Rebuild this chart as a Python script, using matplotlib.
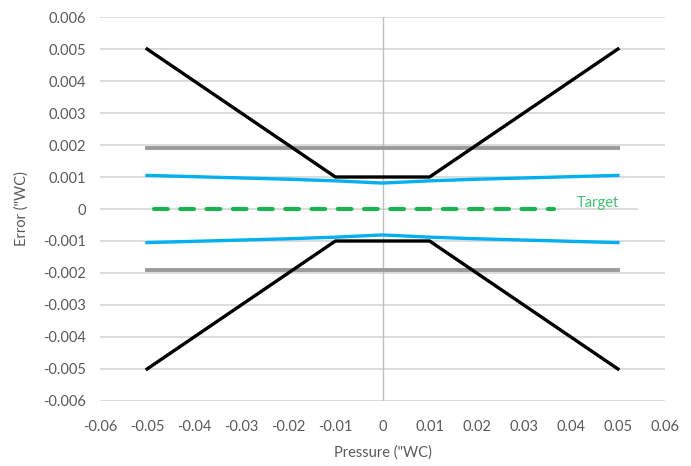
import matplotlib
matplotlib.use("Agg")
import matplotlib.pyplot as plt
import numpy as np

# values
pressure = [-0.05, -0.04, -0.03, -0.02, -0.01, 0.0, 0.01, 0.02, 0.03, 0.04, 0.05]
blue_upper = [0.00105, 0.00101, 0.00097, 0.00093, 0.00088, 0.00081,
              0.00088, 0.00093, 0.00097, 0.00101, 0.00105]
blue_lower = [-v for v in blue_upper]

limit_x = [-0.05, -0.01, 0.01, 0.05]
limit_upper = [0.005, 0.001, 0.001, 0.005]
limit_lower = [-0.005, -0.001, -0.001, -0.005]

gray_x = [-0.05, 0.05]
gray_upper = [0.0019, 0.0019]
gray_lower = [-0.0019, -0.0019]

target_x = [-0.0485, 0.0365]
target_y = [0.0, 0.0]
target_label = "Target"

xticks = np.round(np.arange(-0.06, 0.0601, 0.01), 2)
yticks = np.round(np.arange(-0.006, 0.00601, 0.001), 3)

plt.rcParams['font.family'] = ['Lato', 'DejaVu Sans']
textcol = '#595959'

fig = plt.figure(figsize=(6.91, 4.66), dpi=100)
ax = fig.add_axes([0.1447, 0.1395, 0.8177, 0.824])

# grid lines and axis line at x = 0
for y in yticks:
    if y == 0:
        ax.plot([-0.06, 0.054], [0, 0], color='#d9d9d9', lw=1.3, zorder=1)
    else:
        ax.axhline(y, color='#d9d9d9', lw=1.3, zorder=1)
ax.axvline(0, color='#bfbfbf', lw=1.0, zorder=1)

ax.plot(limit_x, limit_upper, color='black', lw=2.4, zorder=3)
ax.plot(limit_x, limit_lower, color='black', lw=2.4, zorder=3)
ax.plot(gray_x, gray_upper, color='#9a9a9a', lw=2.8, zorder=2)
ax.plot(gray_x, gray_lower, color='#9a9a9a', lw=2.8, zorder=2)
ax.plot(pressure, blue_upper, color='#00b0f0', lw=2.4, zorder=4)
ax.plot(pressure, blue_lower, color='#00b0f0', lw=2.4, zorder=4)
ax.plot(target_x, target_y, color='#1cb452', lw=3, dashes=(3.3, 3.0),
        dash_capstyle='round', zorder=4)
ax.text(0.0457, 0.0002, target_label, color='#3cc36e', fontsize=10.5,
        ha='center', va='center')

ax.set_xlim(-0.06, 0.06)
ax.set_ylim(-0.006, 0.006)
ax.set_xticks(xticks)
ax.set_yticks(yticks)
ax.set_xticklabels(["0" if v == 0 else "{:g}".format(v) for v in xticks])
ax.set_yticklabels(["0" if v == 0 else "{:.3f}".format(v) for v in yticks])
ax.tick_params(length=0, labelsize=10.5, labelcolor=textcol)
ax.tick_params(axis='x', pad=14)
ax.tick_params(axis='y', pad=10)
for s in ax.spines.values():
    s.set_visible(False)

ax.set_xlabel('Pressure ("WC)', fontsize=10.5, color=textcol, labelpad=8)
ax.set_ylabel('Error ("WC)', fontsize=10.5, color=textcol, labelpad=10)

plt.savefig("out.png", dpi=100)
